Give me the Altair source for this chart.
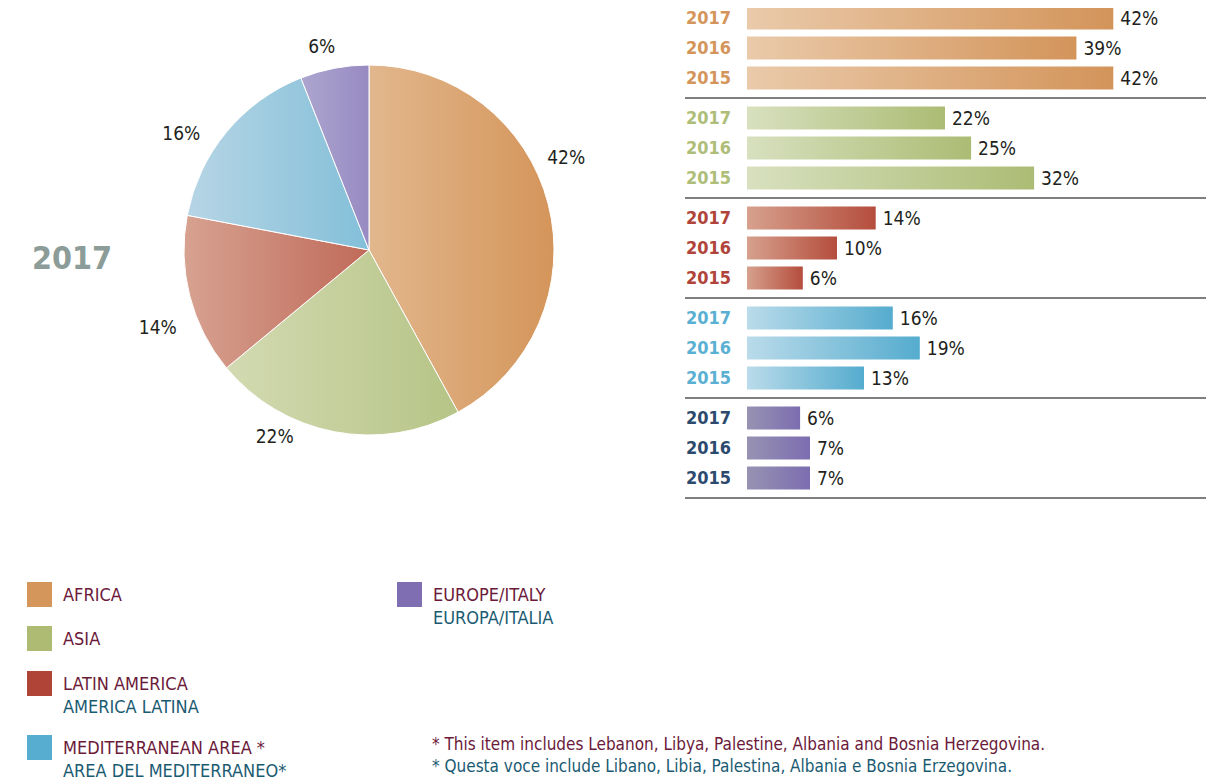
import math
import altair as alt
import pandas as pd

# ---------------- data ----------------
categories = ["Africa", "Asia", "Latin America", "Mediterranean Area", "Europe/Italy"]
pie_year = "2017"
pie_values = [42, 22, 14, 16, 6]
pie_labels = ["42%", "22%", "14%", "16%", "6%"]

years = ["2017", "2016", "2015"]
africa_values = [40.7, 36.6, 40.7]
asia_values = [22.0, 24.9, 31.9]
latin_values = [14.3, 10.0, 6.2]
med_values = [16.2, 19.2, 13.0]
europe_values = [5.9, 7.0, 7.0]
africa_labels = ["42%", "39%", "42%"]
asia_labels = ["22%", "25%", "32%"]
latin_labels = ["14%", "10%", "6%"]
med_labels = ["16%", "19%", "13%"]
europe_labels = ["6%", "7%", "7%"]

legend_en = ["AFRICA", "ASIA", "LATIN AMERICA", "MEDITERRANEAN AREA *", "EUROPE/ITALY"]
legend_it = ["", "", "AMERICA LATINA", "AREA DEL MEDITERRANEO*", "EUROPA/ITALIA"]
footnote_en = "* This item includes Lebanon, Libya, Palestine, Albania and Bosnia Herzegovina."
footnote_it = "* Questa voce include Libano, Libia, Palestina, Albania e Bosnia Erzegovina."

# ---------------- styles / layout ----------------
FONT = "Noto Sans Condensed, Liberation Sans Narrow, DejaVu Sans Condensed, sans-serif"
MAROON = "#6B1A3A"
TEAL = "#1B5B72"
TEXT = "#231F20"

pie_grad = {
    "Africa": ("#E2B78D", "#D4955A"),
    "Asia": ("#D3DAB2", "#B6C486"),
    "Latin America": ("#D7A291", "#C06A59"),
    "Mediterranean Area": ("#B6D5E5", "#83BFD9"),
    "Europe/Italy": ("#ADA6CF", "#978AC2"),
}
bar_grad = {
    "Africa": ("#EACAAA", "#D3945A"),
    "Asia": ("#D8E0BF", "#ACBC74"),
    "Latin America": ("#D6A18D", "#B54D3D"),
    "Mediterranean Area": ("#BADBEA", "#55ACCE"),
    "Europe/Italy": ("#9793B2", "#7C6DB0"),
}
year_colors = ["#D4955B", "#AEBD78", "#B0443A", "#5AB0D2", "#2C4A6E"]
legend_colors = ["#D4965A", "#AEBC73", "#B04436", "#56ADD0", "#7F6EB2"]

def px(v):
    return v - 8

pie_cx, pie_cy, pie_r = px(369), px(250), 185
label_r = 215
label_shift = {
    "Africa": (-11, -39),
    "Asia": (-54, -24),
    "Latin America": (-3, 25),
    "Mediterranean Area": (-22, 21),
    "Europe/Italy": (-7, 8),
}
legend_pos = [(27, 582), (27, 626), (27, 671), (27, 735), (397, 582)]


def grad(c0, c1):
    return alt.LinearGradient(
        gradient="linear",
        stops=[alt.GradientStop(color=c0, offset=0), alt.GradientStop(color=c1, offset=1)],
        x1=0, x2=1, y1=0, y2=0,
    )


# ---------------- tables ----------------
pie_df = pd.DataFrame({
    "category": categories,
    "value": pie_values,
    "label": pie_labels,
    "order": list(range(len(categories))),
})

bar_values = [africa_values, asia_values, latin_values, med_values, europe_values]
bar_labels = [africa_labels, asia_labels, latin_labels, med_labels, europe_labels]
rows = []
for cat, vals, labs in zip(categories, bar_values, bar_labels):
    for yr, v, lab in zip(years, vals, labs):
        rows.append({"category": cat, "year": yr, "value": v, "label": lab})
bars_df = pd.DataFrame(rows)
cat_df = pd.DataFrame({"category": categories})
legend_df = pd.DataFrame({"category": categories, "en": legend_en, "it": legend_it})

# ---------------- scales ----------------
theta_scale = alt.Scale(domain=[0, 100], range=[0, 2 * math.pi], nice=False, zero=False)
x_scale = alt.Scale(domain=[0, 50], range=[px(747), px(747) + 450], nice=False)
y_scale = alt.Scale(domain=categories, range=[px(-2), px(498)], paddingInner=0, paddingOuter=0)
yoff_scale = alt.Scale(domain=years, paddingInner=0.233, paddingOuter=0.283)

layers = []

# ---------------- pie ----------------
pie_base = (
    alt.Chart(pie_df)
    .transform_window(cum="sum(value)", sort=[alt.SortField("order")])
    .transform_calculate(start="datum.cum - datum.value", mid="datum.cum - datum.value / 2")
)
for cat in categories:
    c0, c1 = pie_grad[cat]
    layers.append(
        pie_base.transform_filter(alt.datum.category == cat)
        .mark_arc(outerRadius=pie_r, stroke="white", strokeWidth=1, color=grad(c0, c1))
        .encode(
            theta=alt.Theta("start:Q", scale=theta_scale, stack=False),
            theta2="cum:Q",
            x=alt.value(pie_cx),
            y=alt.value(pie_cy),
        )
    )
for cat in categories:
    dx, dy = label_shift[cat]
    layers.append(
        pie_base.transform_filter(alt.datum.category == cat)
        .mark_text(radius=label_r, dx=dx, dy=dy, font=FONT, fontSize=19, color=TEXT,
                   align="center", baseline="middle")
        .encode(
            theta=alt.Theta("mid:Q", scale=theta_scale, stack=False),
            x=alt.value(pie_cx),
            y=alt.value(pie_cy),
            text="label:N",
        )
    )
layers.append(
    alt.Chart(pd.DataFrame({"t": [pie_year]}))
    .mark_text(font=FONT, fontSize=32, fontWeight="bold", color="#8C9D99",
               align="center", baseline="alphabetic")
    .encode(x=alt.value(px(72)), y=alt.value(px(269)), text="t:N")
)

# ---------------- bars ----------------
enc_y = alt.Y("category:N", scale=y_scale, axis=None)
enc_yoff = alt.YOffset("year:N", scale=yoff_scale)
for cat in categories:
    c0, c1 = bar_grad[cat]
    layers.append(
        alt.Chart(bars_df).transform_filter(alt.datum.category == cat)
        .mark_bar(color=grad(c0, c1))
        .encode(x=alt.X("value:Q", scale=x_scale, axis=None), y=enc_y, yOffset=enc_yoff)
    )
layers.append(
    alt.Chart(bars_df)
    .mark_text(align="left", baseline="middle", dx=7, dy=1, font=FONT, fontSize=19, color=TEXT)
    .encode(x=alt.X("value:Q", scale=x_scale, axis=None), y=enc_y, yOffset=enc_yoff, text="label:N")
)
layers.append(
    alt.Chart(bars_df)
    .mark_text(align="right", baseline="middle", dy=1, font=FONT, fontSize=18, fontWeight="bold")
    .encode(
        x=alt.value(px(731)), y=enc_y, yOffset=enc_yoff, text="year:N",
        color=alt.Color("category:N", scale=alt.Scale(domain=categories, range=year_colors), legend=None),
    )
)
layers.append(
    alt.Chart(cat_df)
    .mark_rule(color="#7F7F7F", strokeWidth=2)
    .encode(
        y=alt.Y("category:N", scale=y_scale, bandPosition=1, axis=None),
        x=alt.value(px(685)), x2=alt.value(px(1206)),
    )
)

# ---------------- legend ----------------
for cat, col, (lx, ly) in zip(categories, legend_colors, legend_pos):
    sub = alt.Chart(legend_df).transform_filter(alt.datum.category == cat)
    layers.append(
        sub.mark_rect(color=col).encode(
            x=alt.value(px(lx)), x2=alt.value(px(lx + 25)),
            y=alt.value(px(ly)), y2=alt.value(px(ly + 25)),
        )
    )
    layers.append(
        sub.mark_text(align="left", baseline="alphabetic", font=FONT, fontSize=18, color=MAROON)
        .encode(x=alt.value(px(lx + 36)), y=alt.value(px(ly + 19)), text="en:N")
    )
    layers.append(
        sub.mark_text(align="left", baseline="alphabetic", font=FONT, fontSize=18, color=TEAL)
        .encode(x=alt.value(px(lx + 36)), y=alt.value(px(ly + 42)), text="it:N")
    )

# ---------------- footnotes ----------------
fn_df = pd.DataFrame({"t": [footnote_en, footnote_it]})
layers.append(
    alt.Chart(fn_df).transform_filter(alt.datum.t == footnote_en)
    .mark_text(align="left", baseline="alphabetic", font=FONT, fontSize=17, color=MAROON)
    .encode(x=alt.value(px(432)), y=alt.value(px(750)), text="t:N")
)
layers.append(
    alt.Chart(fn_df).transform_filter(alt.datum.t == footnote_it)
    .mark_text(align="left", baseline="alphabetic", font=FONT, fontSize=17, color=TEAL)
    .encode(x=alt.value(px(432)), y=alt.value(px(772)), text="t:N")
)

chart = (
    alt.layer(*layers)
    .properties(width=1202, height=776, autosize=alt.AutoSizeParams(type="none"), padding=0)
    .configure_view(stroke=None)
)
chart.save("out.html", embed_options={"renderer": "svg", "actions": False})
